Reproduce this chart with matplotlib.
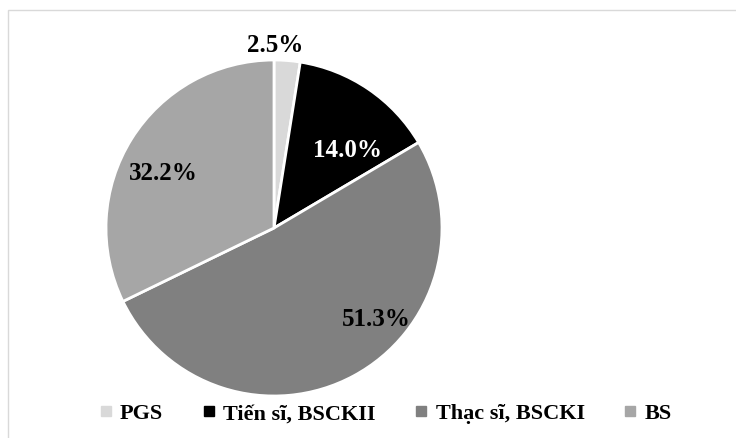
import matplotlib.pyplot as plt
from matplotlib.lines import Line2D
from matplotlib.patches import Rectangle

labels = ['PGS', 'Tiến sĩ, BSCKII', 'Thạc sĩ, BSCKI', 'BS']
values = [2.5, 14.0, 51.3, 32.2]
colors = ['#d9d9d9', '#000000', '#808080', '#a6a6a6']
# label positions (in pie radius units), Excel style best-fit
label_pos = [(0.006, 1.095), (0.44, 0.47), (0.61, -0.54), (-0.66, 0.33)]

plt.rcParams['font.family'] = ['Liberation Serif', 'DejaVu Serif']
plt.rcParams['font.weight'] = 'bold'

fig = plt.figure(figsize=(7.36, 4.39), dpi=100)
W, H = 736, 439

# chart frame
fig.patches.append(Rectangle((8 / W, -0.1), 1.1, (H - 11) / H + 0.1,
                             transform=fig.transFigure, fill=False,
                             edgecolor='#d9d9d9', linewidth=1))

cx, cy, r = 274, 229, 168
ax = fig.add_axes([(cx - r) / W, (H - cy - r) / H, 2 * r / W, 2 * r / H])
wedges, texts, autotexts = ax.pie(values, colors=colors, startangle=90,
                                  counterclock=False, radius=1,
                                  autopct='%1.1f%%',
                                  wedgeprops=dict(edgecolor='white', linewidth=2))
for t, (x, y), c in zip(autotexts, label_pos, ['black', 'white', 'black', 'black']):
    t.set_position((x, y))
    t.set_color(c)
    t.set_fontsize(18)
    t.set_fontweight('bold')
    t.set_clip_on(False)
for w in wedges:
    w.set_clip_on(False)
ax.set_xlim(-1, 1)
ax.set_ylim(-1, 1)
ax.set_aspect('auto')
ax.axis('off')

handles = [Line2D([], [], marker='s', linestyle='', markersize=7,
                  markerfacecolor=c, markeredgecolor=c) for c in colors]
fig.legend(handles, labels, loc='center', bbox_to_anchor=(385 / W, (H - 414) / H),
           ncol=4, frameon=False, prop=dict(size=16, weight='bold'),
           handlelength=0.7, handletextpad=0.3, columnspacing=1.7)

fig.savefig('out.png', dpi=100)
